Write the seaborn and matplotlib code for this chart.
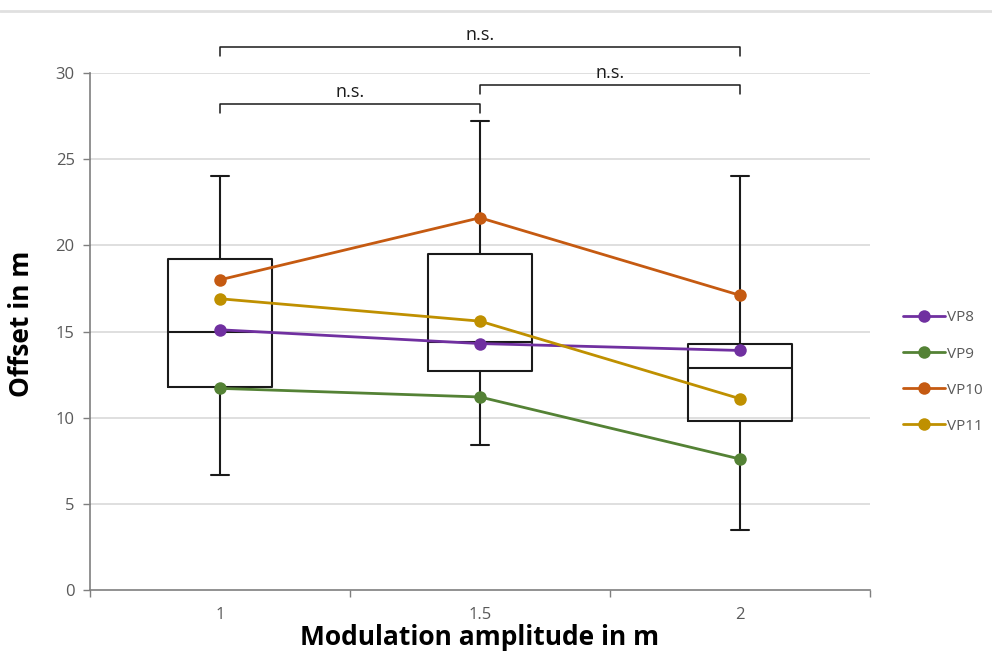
import numpy as np
import pandas as pd
import matplotlib
matplotlib.use("Agg")
import matplotlib.pyplot as plt
import seaborn as sns

categories = ["1", "1.5", "2"]
subjects = ["VP8", "VP9", "VP10", "VP11"]
vp8 = [15.1, 14.3, 13.9]
vp9 = [11.7, 11.2, 7.6]
vp10 = [18.0, 21.6, 17.1]
vp11 = [16.9, 15.6, 11.1]
colors = ["#7030A0", "#548235", "#C55A11", "#BF9000"]

whisk_low = [6.7, 8.4, 3.5]
q1 = [11.8, 12.7, 9.8]
median = [15.0, 14.4, 12.9]
q3 = [19.2, 19.5, 14.3]
whisk_high = [24.0, 27.2, 24.0]

brackets = [(0, 1, 28.2, "n.s."), (1, 2, 29.3, "n.s."), (0, 2, 31.5, "n.s.")]

sns.set_theme(style="white")
plt.rcParams["font.family"] = ["Open Sans", "DejaVu Sans"]

fig = plt.figure(figsize=(9.92, 6.59), dpi=100)
ax = fig.add_axes([90/992, 1-590/659, 780/992, 517/659])

# gridlines
for y in [5, 10, 15, 20, 25, 30]:
    ax.axhline(y, color="#d9d9d9", lw=1.2, zorder=0)

stats = []
for i in range(len(categories)):
    stats.append(dict(whislo=whisk_low[i], q1=q1[i], med=median[i], q3=q3[i],
                      whishi=whisk_high[i], label=categories[i]))
ax.bxp(stats, positions=range(len(categories)), widths=0.4, showfliers=False,
       boxprops=dict(color="#1a1a1a", lw=1.5),
       medianprops=dict(color="#1a1a1a", lw=1.5),
       whiskerprops=dict(color="#1a1a1a", lw=1.5),
       capprops=dict(color="#1a1a1a", lw=1.5), capwidths=0.07)

rows = []
for name, vals in zip(subjects, [vp8, vp9, vp10, vp11]):
    for i, v in enumerate(vals):
        rows.append(dict(x=i, y=v, subject=name))
df = pd.DataFrame(rows)
sns.lineplot(data=df, x="x", y="y", hue="subject", hue_order=subjects,
             palette=colors, marker="o", markersize=9, markeredgewidth=0,
             lw=2.0, ax=ax, legend=True, zorder=5)

ax.set_xlim(-0.5, 2.5)
ax.set_ylim(0, 30)
ax.set_yticks([0, 5, 10, 15, 20, 25, 30])
ax.set_xticks(range(len(categories)))
ax.set_xticklabels(categories)
ax.set_xticks([-0.5, 0.5, 1.5, 2.5], minor=True)
ax.tick_params(axis="x", which="major", length=0, pad=12, labelsize=12, labelcolor="#595959")
ax.tick_params(axis="x", which="minor", length=5, width=1, color="#7f7f7f", direction="out", bottom=True)
ax.tick_params(axis="y", length=5, width=1, color="#7f7f7f", direction="out", left=True,
               labelsize=12, labelcolor="#595959", pad=6)
for s in ["top", "right"]:
    ax.spines[s].set_visible(False)
for s in ["left", "bottom"]:
    ax.spines[s].set_color("#7f7f7f")
    ax.spines[s].set_linewidth(1.2)

ax.set_xlabel("Modulation amplitude in m", fontsize=19, fontweight="bold", color="black", labelpad=1)
ax.set_ylabel("Offset in m", fontsize=19, fontweight="bold", color="black")
ax.yaxis.set_label_coords(-0.071, 0.515)

# significance brackets
for a, b, y, t in brackets:
    ax.plot([a, a, b, b], [y - 0.5, y, y, y - 0.5], color="#1a1a1a", lw=1.1, clip_on=False)
    ax.text((a + b) / 2, y + 0.2, t, ha="center", va="bottom", fontsize=13, color="#1a1a1a", clip_on=False)

leg = ax.legend(loc="center left", bbox_to_anchor=(1.042, 0.4215), frameon=False,
                fontsize=11, labelcolor="#595959", handlelength=2.75, handletextpad=0.15,
                labelspacing=1.38, borderpad=0, borderaxespad=0, title=None)

fig.add_artist(plt.Line2D([0, 1], [1 - 11/659, 1 - 11/659], color="#e0e0e0", lw=2, transform=fig.transFigure))

fig.savefig("out.png", dpi=100)
